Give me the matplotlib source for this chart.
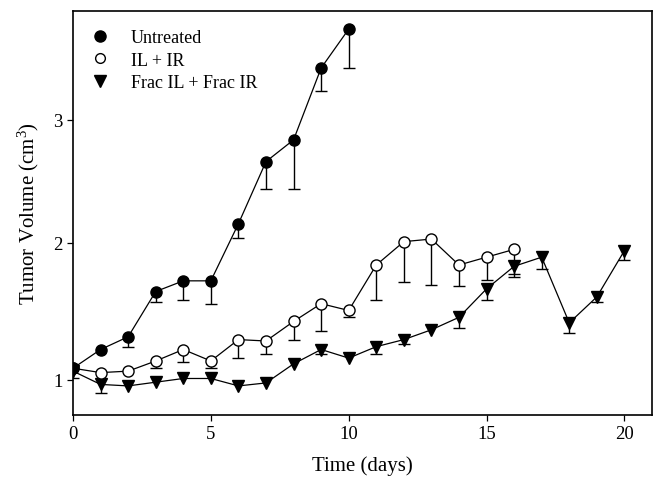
import numpy as np
import matplotlib
matplotlib.use("Agg")
import matplotlib.pyplot as plt
from matplotlib.lines import Line2D

plt.rcParams['font.family'] = ['Liberation Serif', 'DejaVu Serif']
plt.rcParams['mathtext.default'] = 'regular'

# data (tumor volume, cm3) -- error = lower SEM bar
days_untreated = [0, 1, 2, 3, 4, 5, 6, 7, 8, 9, 10]
untreated = [1.08, 1.21, 1.30, 1.63, 1.71, 1.71, 2.15, 2.65, 2.83, 3.44, 3.78]
untreated_err = [0.07, np.nan, 0.07, 0.08, 0.14, 0.17, 0.11, 0.22, 0.40, 0.20, 0.34]

days_ilir = [0, 1, 2, 3, 4, 5, 6, 7, 8, 9, 10, 11, 12, 13, 14, 15, 16]
ilir = [1.08, 1.05, 1.06, 1.13, 1.21, 1.13, 1.28, 1.27, 1.41, 1.54, 1.49,
        1.83, 2.01, 2.03, 1.83, 1.89, 1.95]
ilir_err = [np.nan, np.nan, np.nan, 0.05, 0.09, 0.05, 0.13, 0.09, 0.13, 0.20,
            0.05, 0.26, 0.31, 0.35, 0.16, 0.17, 0.21]

days_frac = list(range(21))
frac = [1.06, 0.97, 0.96, 0.985, 1.01, 1.01, 0.96, 0.98, 1.11, 1.21, 1.15,
        1.23, 1.28, 1.35, 1.44, 1.65, 1.82, 1.89, 1.40, 1.59, 1.94]
frac_err = [np.nan, 0.06, np.nan, np.nan, np.nan, np.nan, np.nan, np.nan, np.nan,
            0.03, np.nan, 0.05, 0.03, np.nan, 0.08, 0.08, 0.06, 0.09, 0.07,
            0.04, 0.07]

labels = ["Untreated", "IL + IR", "Frac IL + Frac IR"]


def fwd(v):
    v = np.asarray(v, dtype=float)
    return np.sign(v) * np.abs(v) ** 0.8


def inv(v):
    v = np.asarray(v, dtype=float)
    return np.sign(v) * np.abs(v) ** 1.25


fig = plt.figure(figsize=(6.68, 4.81), dpi=100)
ax = fig.add_axes([0.1093, 0.1351, 0.8667, 0.8399])
ax.set_yscale('function', functions=(fwd, inv))


def draw(x, y, err, marker, face, z):
    y = np.array(y)
    err = np.array(err)
    eb = ax.errorbar(x, y, yerr=[err, np.zeros_like(err)], fmt='-', color='black',
                     lw=0.9, marker=marker, ms=8, mfc=face, mec='black', mew=1.0,
                     ecolor='black', elinewidth=1.0, capsize=4.5, capthick=1.0,
                     zorder=z)
    eb[1][1].set_visible(False)  # only the lower cap is shown


draw(days_frac, frac, frac_err, 'v', 'black', 3)
draw(days_ilir, ilir, ilir_err, 'o', 'white', 4)
draw(days_untreated, untreated, untreated_err, 'o', 'black', 5)

ax.set_xlim(0, 21)
ax.set_ylim(0.769, 3.94)
ax.set_xticks([0, 5, 10, 15, 20])
ax.set_yticks([1, 2, 3])
ax.set_yticklabels(['1', '2', '3'])
ax.minorticks_off()
ax.tick_params(direction='out', length=4, width=0.9, labelsize=13.5,
               top=False, right=False)
for s in ax.spines.values():
    s.set_linewidth(1.2)

ax.set_xlabel("Time (days)", fontsize=15, labelpad=9)
ax.set_ylabel("Tumor Volume (cm$^3$)", fontsize=15, labelpad=9)

handles = [Line2D([], [], ls='none', marker='o', ms=8, mfc='black', mec='black'),
           Line2D([], [], ls='none', marker='o', ms=7, mfc='white', mec='black'),
           Line2D([], [], ls='none', marker='v', ms=8, mfc='black', mec='black')]
ax.legend(handles, labels, loc='upper left', bbox_to_anchor=(0.0, 0.995),
          frameon=False, fontsize=13, handlelength=1.2, handletextpad=1.1,
          labelspacing=0.3, borderaxespad=0.5)

fig.savefig("out.png", dpi=100)
